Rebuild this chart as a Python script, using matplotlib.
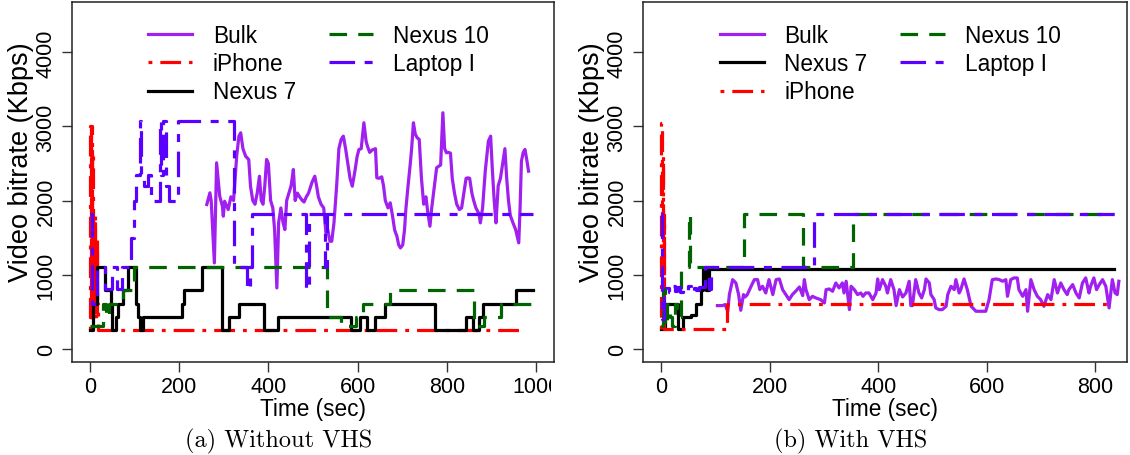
import matplotlib
matplotlib.use('Agg')
import matplotlib.pyplot as plt
from matplotlib.transforms import Bbox, TransformedBbox

plt.rcParams['font.family'] = ['Liberation Sans', 'DejaVu Sans']

# ---- (a) Without VHS ----
bulk_l_t = [262, 269, 272, 279, 284, 291, 297, 299, 302, 310, 316, 322, 329, 334, 338, 343, 349, 356, 360,
            365, 370, 375, 380, 384, 388, 392, 396, 400, 405, 410, 414, 419, 423, 428, 433, 437, 441, 446,
            451, 456, 460, 465, 470, 476, 480, 485, 490, 498, 504, 508, 512, 518, 524, 529, 533, 538, 542,
            547, 553, 558, 563, 568, 573, 578, 583, 588, 594, 599, 603, 608, 614, 619, 622, 627, 632, 636,
            640, 643, 648, 654, 658, 662, 668, 673, 678, 683, 688, 692, 696, 701, 705, 708, 713, 718, 721,
            725, 729, 733, 738, 743, 748, 753, 757, 762, 766, 770, 774, 777, 781, 786, 791, 795, 799, 803,
            808, 812, 817, 822, 828, 833, 838, 843, 847, 851, 856, 860, 865, 872, 875, 880, 886, 893, 898,
            902, 906, 910, 915, 920, 925, 930, 934, 938, 942, 948, 954, 961, 964, 967, 971, 975, 979, 983]
bulk_l_v = [1946, 2104, 1990, 1158, 2509, 2058, 1923, 1788, 1990, 1878, 2050, 2000, 2600, 2869, 2914, 2700,
            2599, 2553, 2193, 2000, 1950, 2100, 2328, 2000, 1950, 2200, 2554, 2500, 2000, 1900, 1600, 820,
            1700, 1900, 1700, 1608, 2000, 2100, 2200, 2419, 2000, 2100, 2050, 2000, 1980, 2050, 2100, 2250,
            2328, 2200, 2050, 1950, 1900, 1563, 1600, 1450, 1450, 1700, 2200, 2700, 2824, 2869, 2700, 2500,
            2300, 2193, 2400, 2600, 2689, 2700, 3050, 2800, 2734, 2650, 2680, 2690, 2700, 2306, 2300, 2320,
            2200, 2000, 1900, 1969, 1800, 1600, 1518, 1400, 1360, 1400, 1600, 1878, 2200, 2500, 2700, 3050,
            2900, 2850, 2824, 2300, 1950, 2050, 1850, 1653, 1900, 2100, 2300, 2441, 2460, 2480, 3185, 2700,
            2644, 2650, 2640, 2300, 2100, 1950, 1878, 1900, 2100, 2300, 2306, 2300, 2100, 2000, 1900, 1820,
            1698, 1900, 2400, 2802, 2869, 2400, 2000, 1698, 2200, 2300, 2500, 2700, 2300, 2000, 1800, 1700,
            1608, 1428, 1900, 2531, 2650, 2689, 2550, 2396]

iph_l_t = [0, 1, 2, 3, 4, 5, 6, 7, 8, 9, 10, 11, 12, 13, 14, 15, 16, 17, 18, 965]
iph_l_v = [250, 3000, 400, 3000, 600, 2700, 500, 1800, 400, 1400, 700, 1800, 500, 1200, 400, 1500, 800,
           600, 250, 250]

n7_l_t = [0, 7, 16, 33, 48, 50, 59, 63, 74, 85, 103, 109, 112, 120, 207, 210, 251, 297, 312, 334, 391,
          421, 585, 606, 620, 640, 662, 773, 842, 858, 872, 881, 954, 994]
n7_l_v = [250, 600, 1100, 790, 600, 250, 430, 600, 790, 1100, 600, 430, 250, 430, 600, 790, 1100, 250,
          430, 600, 250, 430, 250, 430, 250, 430, 600, 250, 430, 250, 430, 600, 790, 790]

n10_l_t = [0, 30, 37, 44, 74, 100, 532, 562, 596, 611, 673, 861, 883, 921, 994]
n10_l_v = [300, 600, 430, 600, 790, 1100, 430, 300, 430, 600, 790, 300, 430, 600, 600]

lap_l_t = [0, 5, 15, 35, 50, 60, 72, 92, 98, 104, 112, 114, 122, 130, 138, 157, 160, 165, 170, 178, 197,
           323, 352, 358, 363, 485, 492, 526, 532, 994]
lap_l_v = [1820, 600, 1100, 800, 1100, 800, 1100, 1500, 2000, 2350, 3080, 2350, 2200, 2350, 2000, 3080,
           2350, 3080, 2200, 2000, 3080, 1100, 800, 1100, 1820, 800, 1820, 1100, 1820, 1820]

# ---- (b) With VHS ----
bulk_r_t = [104, 113, 118, 123, 126, 132, 138, 143, 147, 152, 155, 159, 166, 172, 178, 182, 187, 193, 199,
            206, 212, 218, 224, 230, 236, 242, 248, 255, 261, 264, 267, 273, 279, 285, 294, 301, 304, 310,
            316, 322, 328, 334, 337, 341, 347, 350, 356, 362, 368, 372, 377, 383, 390, 396, 399, 402, 408,
            414, 417, 423, 429, 433, 439, 445, 451, 457, 460, 463, 469, 475, 480, 485, 488, 494, 497, 503,
            506, 512, 518, 525, 528, 534, 540, 543, 549, 552, 558, 564, 571, 580, 586, 598, 604, 610, 617,
            623, 629, 635, 638, 644, 650, 656, 659, 666, 672, 675, 681, 687, 693, 699, 705, 712, 718, 724,
            730, 736, 742, 748, 751, 758, 764, 770, 776, 782, 788, 791, 797, 802, 807, 813, 819, 825, 831,
            836, 840, 843]
bulk_r_v = [581, 581, 595, 505, 730, 932, 887, 730, 518, 730, 698, 730, 842, 932, 932, 797, 842, 752, 932,
            730, 932, 941, 797, 730, 662, 730, 775, 833, 716, 932, 797, 662, 707, 685, 662, 617, 797, 806,
            775, 887, 820, 887, 752, 910, 527, 842, 797, 730, 752, 707, 752, 752, 662, 752, 941, 797, 932,
            842, 752, 932, 797, 581, 797, 698, 752, 910, 581, 581, 932, 752, 685, 797, 941, 887, 730, 662,
            550, 527, 527, 572, 730, 842, 797, 932, 752, 797, 941, 797, 572, 505, 505, 505, 662, 932, 941,
            932, 910, 932, 707, 932, 955, 955, 797, 707, 797, 505, 932, 797, 707, 662, 572, 730, 662, 932,
            752, 887, 797, 730, 797, 865, 752, 685, 887, 955, 752, 842, 955, 797, 865, 932, 842, 550, 932,
            752, 730, 910]

n7_r_t = [0, 8, 32, 40, 55, 64, 74, 77, 83, 89, 834]
n7_r_v = [270, 600, 270, 430, 460, 600, 790, 1070, 790, 1070, 1070]

iph_r_t = [0, 1, 2, 3, 4, 5, 6, 122, 834]
iph_r_v = [270, 3050, 1500, 2600, 900, 1800, 270, 600, 600]

n10_r_t = [0, 4, 8, 12, 16, 20, 25, 30, 37, 52, 54, 153, 261, 353, 834]
n10_r_v = [300, 800, 300, 600, 430, 300, 600, 430, 1100, 1820, 1100, 1820, 1100, 1820, 1820]

lap_r_t = [0, 2, 5, 10, 15, 20, 25, 30, 35, 40, 45, 50, 55, 60, 65, 70, 82, 88, 92, 282, 834]
lap_r_v = [1820, 400, 700, 820, 760, 840, 780, 830, 760, 820, 790, 840, 770, 820, 790, 830, 1100, 800,
           1100, 1820, 1820]

C_BULK = '#A020F0'
C_IPH = '#FF0000'
C_N7 = '#000000'
C_N10 = '#006400'
C_LAP = '#5A00FF'
LW = 2.3

st_bulk = dict(color=C_BULK, lw=LW, ls='-')
st_iph = dict(color=C_IPH, lw=LW, ls=(0, (1.2, 2.5, 6.5, 2.5)))
st_n7 = dict(color=C_N7, lw=LW, ls='-')
st_n10 = dict(color=C_N10, lw=LW, ls=(0, (5.5, 3.5)))
st_lap = dict(color=C_LAP, lw=LW, ls=(0, (8, 3, 2.5, 3)))

leg_kw = dict(ncol=2, frameon=False, fontsize=16.3, loc='upper left', borderpad=0, borderaxespad=0,
              handlelength=1.95, handletextpad=0.9, columnspacing=1.45, labelspacing=0.24)

fig = plt.figure(figsize=(11.3, 4.56), dpi=100)
axl = fig.add_axes([72 / 1130, 93 / 456, 482 / 1130, 360 / 456])
axr = fig.add_axes([643 / 1130, 93 / 456, 484 / 1130, 360 / 456])

hb, = axl.plot(bulk_l_t, bulk_l_v, label='Bulk', **st_bulk)
hi, = axl.step(iph_l_t, iph_l_v, where='post', label='iPhone', **st_iph)
h7, = axl.step(n7_l_t, n7_l_v, where='post', label='Nexus 7', **st_n7)
h10, = axl.step(n10_l_t, n10_l_v, where='post', label='Nexus 10', **st_n10)
hl, = axl.step(lap_l_t, lap_l_v, where='post', label='Laptop I', **st_lap)
axl.legend(handles=[hb, hi, h7, h10, hl], bbox_to_anchor=(0.158, 0.94), **leg_kw)

gb, = axr.plot(bulk_r_t, bulk_r_v, label='Bulk', **st_bulk)
g7, = axr.step(n7_r_t, n7_r_v, where='post', label='Nexus 7', **st_n7)
gi, = axr.step(iph_r_t, iph_r_v, where='post', label='iPhone', **st_iph)
g10, = axr.step(n10_r_t, n10_r_v, where='post', label='Nexus 10', **st_n10)
gl, = axr.step(lap_r_t, lap_r_v, where='post', label='Laptop I', **st_lap)
axr.legend(handles=[gb, g7, gi, g10, gl], bbox_to_anchor=(0.159, 0.94), **leg_kw)

axl.set_xlim(-40, 1040)
axl.set_xticks([0, 200, 400, 600, 800, 1000])
axr.set_xlim(-33, 858)
axr.set_xticks([0, 200, 400, 600, 800])

for ax in (axl, axr):
    ax.set_ylim(-180, 4680)
    ax.set_yticks([0, 1000, 2000, 3000, 4000])
    ax.tick_params(axis='both', direction='out', length=7, width=1, labelsize=15.5, color='#333333')
    ax.tick_params(axis='x', pad=3)
    ax.tick_params(axis='y', pad=4, labelrotation=90)
    for lbl in ax.get_yticklabels():
        lbl.set_va('center')
    for s in ax.spines.values():
        s.set_linewidth(1.1)
        s.set_color('#222222')
    ax.set_xlabel('Time (sec)', fontsize=16.3)
    ax.xaxis.set_label_coords(0.5, -0.097)
    ax.set_ylabel('Video bitrate (Kbps)', fontsize=19.5)
    ax.yaxis.set_label_coords(-0.079, 0.558)

# the left panel's last tick label is cut at the subfigure edge
fig.canvas.draw()
clip = TransformedBbox(Bbox([[0, 0], [551 / 1130, 1]]), fig.transFigure)
for tick in axl.xaxis.get_major_ticks():
    tick.label1.set_clip_on(True)
    tick.label1.set_clip_box(clip)

fig.text(278.5 / 1130, 15 / 456, '(a) Without VHS', family='cmr10', fontsize=17.5,
         ha='center', va='center')
fig.text(851 / 1130, 15 / 456, '(b) With VHS', family='cmr10', fontsize=17.5,
         ha='center', va='center')

fig.savefig('out.png', dpi=100)
